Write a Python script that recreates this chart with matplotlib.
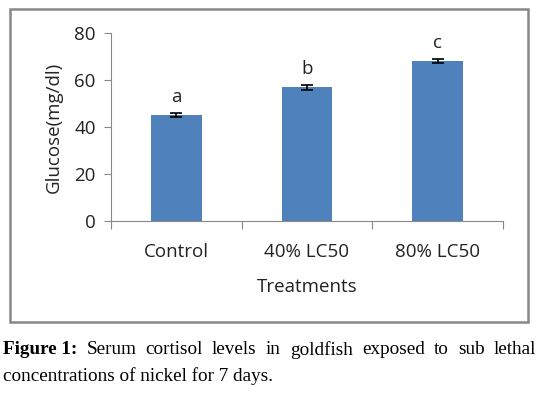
import matplotlib
matplotlib.use("Agg")
import matplotlib.pyplot as plt
from matplotlib.patches import Rectangle

categories = ["Control", "40% LC50", "80% LC50"]
values = [45.1, 56.9, 68.1]
errors = [1.0, 1.0, 1.0]
letters = ["a", "b", "c"]
yticks = [0, 20, 40, 60, 80]

sans = ["Open Sans", "DejaVu Sans"]
serif = ["Liberation Serif", "DejaVu Serif"]
fs = 13.5

fig = plt.figure(figsize=(5.39, 3.93), dpi=100)
ax = fig.add_axes([0.2059, 0.4377, 0.7273, 0.4783])

x = list(range(len(categories)))
ax.bar(x, values, width=0.39, color="#4F81BD", zorder=2)
ax.errorbar(x, values, yerr=errors, fmt="none", ecolor="black", elinewidth=1.2,
            capsize=4, capthick=1.2, zorder=3)
for xi, v, e, l in zip(x, values, errors, letters):
    ax.text(xi, v + e + 3.0, l, ha="center", va="bottom", fontsize=fs, family=sans,
            color="#222222")

ax.set_xlim(-0.5, 2.5)
ax.set_ylim(0, 80)
ax.set_yticks(yticks)
ax.set_yticklabels([str(t) for t in yticks], family=sans, fontsize=fs, color="#222222")
ax.set_xticks([-0.5, 0.5, 1.5, 2.5])
ax.set_xticklabels([])
ax.set_xticks(x, minor=True)
ax.set_xticklabels(categories, minor=True, family=sans, fontsize=fs, color="#222222")
ax.tick_params(axis="x", which="major", length=6, direction="out", color="#888888")
ax.tick_params(axis="x", which="minor", length=0, pad=16)
ax.tick_params(axis="y", length=5, direction="out", color="#888888", pad=6)
for s in ["top", "right"]:
    ax.spines[s].set_visible(False)
for s in ["left", "bottom"]:
    ax.spines[s].set_color("#888888")
ax.set_ylabel("Glucose(mg/dl)", family=sans, fontsize=fs, color="#222222", labelpad=8)
ax.set_xlabel("Treatments", family=sans, fontsize=fs, color="#222222", labelpad=12)

# outer chart box
fig.patches.append(Rectangle((10/539, 1-322/393), 518/539, 313/393, transform=fig.transFigure,
                             fill=False, edgecolor="#888888", linewidth=1.8))

# caption (justified first line)
cfs = 13.8
fig.canvas.draw()
r = fig.canvas.get_renderer()
line1 = [("Figure 1:", "bold"), ("Serum", "normal"), ("cortisol", "normal"), ("levels", "normal"),
         ("in", "normal"), ("goldfish", "normal"), ("exposed", "normal"), ("to", "normal"),
         ("sub", "normal"), ("lethal", "normal")]
y1 = 1 - 350/393
texts = []
total = 0
for w, wt in line1:
    t = fig.text(0, y1, w, family=serif, fontsize=cfs, fontweight=wt, va="center", ha="left")
    bb = t.get_window_extent(r)
    texts.append((t, bb.width))
    total += bb.width
x0, x1 = 3, 536
gap = (x1 - x0 - total) / (len(line1) - 1)
cur = x0
for t, wd in texts:
    t.set_x(cur / 539)
    cur += wd + gap
fig.text(3/539, 1 - 376/393, "concentrations of nickel for 7 days.", family=serif, fontsize=cfs,
         va="center", ha="left")

fig.savefig("out.png", dpi=100)
